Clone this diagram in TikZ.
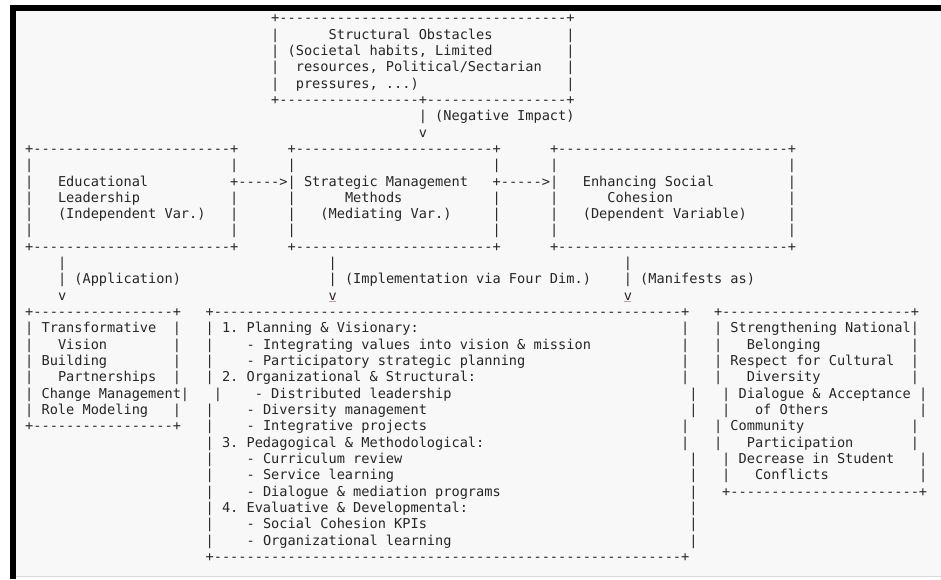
\documentclass[tikz,border=0pt]{standalone}
\usepackage{fontspec}
\setmonofont{DejaVu Sans Mono}
\definecolor{pagebg}{HTML}{F8F8F8}
\definecolor{ink}{HTML}{262626}
\definecolor{rulegray}{HTML}{D9D9D9}
\definecolor{markred}{HTML}{C49A9A}
\newcommand\rep[2]{\ifnum#1>0 #2\expandafter\rep\expandafter{\the\numexpr#1-1\relax}{#2}\fi}
\tikzset{asc/.style={anchor=base west, inner sep=0pt, outer sep=0pt,
  font=\ttfamily\fontsize{13.62}{16.33}\selectfont, text=ink}}
% \A{col}{row}{text}
\newcommand\A[3]{\node[asc] (r#2c#1) at ({25.2+8.2*#1},{-22.7-16.33*#2}) {#3};}
\newcommand\bars[2]{\foreach \cc in {#2}{\A{\cc}{#1}{|}}}
\begin{document}
\begin{tikzpicture}[x=1pt,y=1pt]
\useasboundingbox (0,0) rectangle (941,-579);
% screen background and frame
\fill[white] (0,0) rectangle (941,-579);
\fill[pagebg] (16,-11) rectangle (941,-576);
\fill[black] (10,-5) rectangle (941,-11);
\fill[black] (10,-5) rectangle (16,-579);
\draw[rulegray, line width=1.2pt] (16,-576.6) -- (941,-576.6);
% ---- top box
\A{30}{0}{+\rep{35}{-}+}
\A{30}{1}{|}\A{37}{1}{Structural Obstacles}\A{66}{1}{|}
\A{30}{2}{|}\A{32}{2}{(Societal habits, Limited}\A{66}{2}{|}
\A{30}{3}{|}\A{33}{3}{resources, Political/Sectarian}\A{66}{3}{|}
\A{30}{4}{|}\A{33}{4}{pressures, ...)}\A{66}{4}{|}
\A{30}{5}{+\rep{17}{-}+\rep{17}{-}+}
\A{48}{6}{|}\A{50}{6}{(Negative Impact)}
\A{48}{7}{v}
% ---- middle row of boxes
\A{0}{8}{+\rep{24}{-}+}\A{32}{8}{+\rep{24}{-}+}\A{64}{8}{+\rep{28}{-}+}
\bars{9}{0,25,32,57,64,93}
\A{0}{10}{|}\A{4}{10}{Educational}\A{25}{10}{+\rep{5}{-}>|}\A{34}{10}{Strategic Management}\A{57}{10}{+\rep{5}{-}>|}\A{68}{10}{Enhancing Social}\A{93}{10}{|}
\A{0}{11}{|}\A{4}{11}{Leadership}\A{25}{11}{|}\A{32}{11}{|}\A{39}{11}{Methods}\A{57}{11}{|}\A{64}{11}{|}\A{71}{11}{Cohesion}\A{93}{11}{|}
\A{0}{12}{|}\A{4}{12}{(Independent Var.)}\A{25}{12}{|}\A{32}{12}{|}\A{36}{12}{(Mediating Var.)}\A{57}{12}{|}\A{64}{12}{|}\A{68}{12}{(Dependent Variable)}\A{93}{12}{|}
\bars{13}{0,25,32,57,64,93}
\A{0}{14}{+\rep{24}{-}+}\A{32}{14}{+\rep{24}{-}+}\A{64}{14}{+\rep{28}{-}+}
% ---- links to lower boxes
\bars{15}{4,37,73}
\A{4}{16}{| (Application)}\A{37}{16}{| (Implementation via Four Dim.)}\A{73}{16}{| (Manifests as)}
\A{4}{17}{v}\A{37}{17}{v}\A{73}{17}{v}
\draw[markred, line width=0.9pt] ([xshift=0.6pt,yshift=-1.6pt]r17c37.base west) -- ([xshift=-0.6pt,yshift=-1.6pt]r17c37.base east);
\draw[markred, line width=0.9pt] ([xshift=0.6pt,yshift=-1.6pt]r17c73.base west) -- ([xshift=-0.6pt,yshift=-1.6pt]r17c73.base east);
% ---- lower boxes
\A{0}{18}{+\rep{17}{-}+}\A{22}{18}{+\rep{57}{-}+}\A{84}{18}{+\rep{23}{-}+}
\A{0}{19}{|}\A{2}{19}{Transformative}\A{18}{19}{|}\A{22}{19}{|}\A{24}{19}{1. Planning \& Visionary:}\A{80}{19}{|}\A{84}{19}{|}\A{86}{19}{Strengthening National|}
\A{0}{20}{|}\A{4}{20}{Vision}\A{18}{20}{|}\A{22}{20}{|}\A{27}{20}{- Integrating values into vision \& mission}\A{80}{20}{|}\A{84}{20}{|}\A{88}{20}{Belonging}\A{108}{20}{|}
\A{0}{21}{|}\A{2}{21}{Building}\A{18}{21}{|}\A{22}{21}{|}\A{27}{21}{- Participatory strategic planning}\A{80}{21}{|}\A{84}{21}{|}\A{86}{21}{Respect for Cultural}\A{108}{21}{|}
\A{0}{22}{|}\A{4}{22}{Partnerships}\A{18}{22}{|}\A{22}{22}{|}\A{24}{22}{2. Organizational \& Structural:}\A{80}{22}{|}\A{84}{22}{|}\A{88}{22}{Diversity}\A{108}{22}{|}
\A{0}{23}{|}\A{2}{23}{Change Management|}\A{23}{23}{|}\A{28}{23}{- Distributed leadership}\A{81}{23}{|}\A{85}{23}{|}\A{87}{23}{Dialogue \& Acceptance}\A{109}{23}{|}
\A{0}{24}{|}\A{2}{24}{Role Modeling}\A{18}{24}{|}\A{22}{24}{|}\A{27}{24}{- Diversity management}\A{81}{24}{|}\A{85}{24}{|}\A{89}{24}{of Others}\A{109}{24}{|}
\A{0}{25}{+\rep{17}{-}+}\A{22}{25}{|}\A{27}{25}{- Integrative projects}\A{80}{25}{|}\A{84}{25}{|}\A{86}{25}{Community}\A{108}{25}{|}
\A{22}{26}{|}\A{24}{26}{3. Pedagogical \& Methodological:}\A{80}{26}{|}\A{84}{26}{|}\A{88}{26}{Participation}\A{108}{26}{|}
\A{22}{27}{|}\A{27}{27}{- Curriculum review}\A{81}{27}{|}\A{85}{27}{|}\A{87}{27}{Decrease in Student}\A{109}{27}{|}
\A{22}{28}{|}\A{27}{28}{- Service learning}\A{81}{28}{|}\A{85}{28}{|}\A{89}{28}{Conflicts}\A{109}{28}{|}
\A{22}{29}{|}\A{27}{29}{- Dialogue \& mediation programs}\A{81}{29}{|}\A{85}{29}{+\rep{23}{-}+}
\A{22}{30}{|}\A{24}{30}{4. Evaluative \& Developmental:}\A{81}{30}{|}
\A{22}{31}{|}\A{27}{31}{- Social Cohesion KPIs}\A{81}{31}{|}
\A{22}{32}{|}\A{27}{32}{- Organizational learning}\A{81}{32}{|}
\A{22}{33}{+\rep{57}{-}+}
\end{tikzpicture}
\end{document}
